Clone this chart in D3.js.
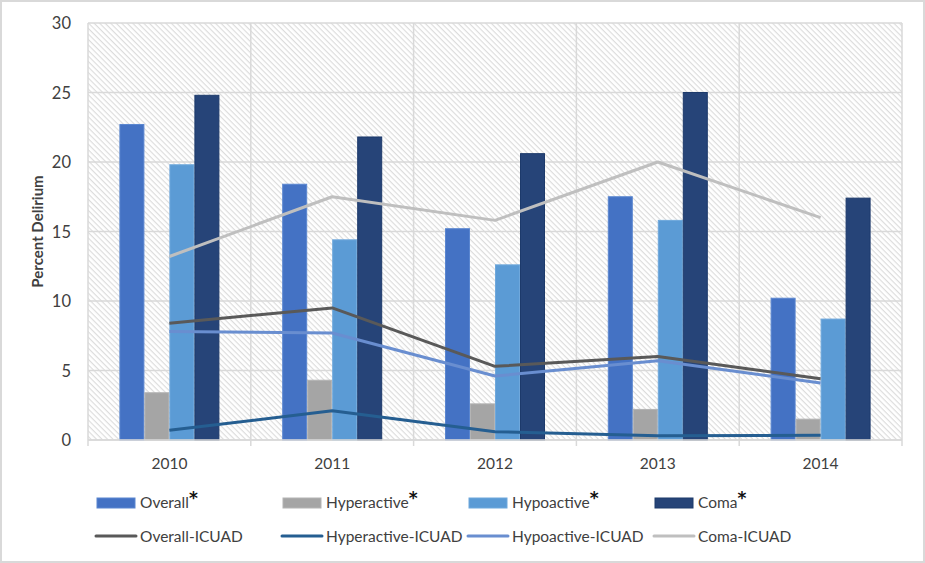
<!DOCTYPE html>
<html>
<head>
<meta charset="utf-8">
<script src="https://cdn.jsdelivr.net/npm/d3@7"></script>
<style>
  body { margin: 0; background: #fff; }
  svg { font-family: Lato, "Open Sans", sans-serif; }
</style>
</head>
<body>
<div class="chart"></div>
<script>
// width and height of the picture
let svg_width = 925;
let svg_height = 563;

// data
let years = ['2010', '2011', '2012', '2013', '2014'];
let bar_series = ['Overall', 'Hyperactive', 'Hypoactive', 'Coma'];
let overall = [22.7, 18.4, 15.2, 17.5, 10.2];
let hyperactive = [3.4, 4.3, 2.6, 2.2, 1.5];
let hypoactive = [19.8, 14.4, 12.6, 15.8, 8.7];
let coma = [24.8, 21.8, 20.6, 25.0, 17.4];

let line_series = ['Overall-ICUAD', 'Hyperactive-ICUAD', 'Hypoactive-ICUAD', 'Coma-ICUAD'];
let overall_icuad = [8.4, 9.5, 5.3, 6.0, 4.4];
let hyperactive_icuad = [0.7, 2.1, 0.6, 0.3, 0.35];
let hypoactive_icuad = [7.8, 7.7, 4.6, 5.7, 4.1];
let coma_icuad = [13.2, 17.5, 15.8, 20.0, 16.0];

let y_ticks = [0, 5, 10, 15, 20, 25, 30];

let bar_values = [overall, hyperactive, hypoactive, coma];
let line_values = [overall_icuad, hyperactive_icuad, hypoactive_icuad, coma_icuad];

let bar_colors = ['#4472C4', '#A5A5A5', '#5B9BD5', '#264478'];
let bar_strokes = ['#5a86d0', '#b4b4b4', '#6fa8dc', '#1d3a6b'];
let line_colors = ['#595959', '#255E91', '#698ED0', '#BFBFBF'];

// plot area
let plot = { left: 88, right: 902, top: 23, bottom: 440 };

let x_scale = d3.scaleBand()
                .domain(years)
                .range([plot.left, plot.right]);

let group_width = 100;
let x_inner = d3.scaleBand()
                .domain(bar_series)
                .range([0, group_width]);

let y_scale = d3.scaleLinear()
                .domain([0, 30])
                .range([plot.bottom, plot.top]);

let svg = d3.select('.chart')
            .append('svg')
            .attr('width', svg_width)
            .attr('height', svg_height);

// outer frame
svg.append('rect')
    .attr('x', 1).attr('y', 1)
    .attr('width', svg_width - 2).attr('height', svg_height - 2)
    .attr('fill', '#fff')
    .attr('stroke', '#d9d9d9')
    .attr('stroke-width', 2);

// hatch pattern for the plot area
let defs = svg.append('defs');
let pat = defs.append('pattern')
    .attr('id', 'hatch')
    .attr('patternUnits', 'userSpaceOnUse')
    .attr('width', 8).attr('height', 3.9)
    .attr('patternTransform', 'rotate(45)');
pat.append('rect').attr('width', 8).attr('height', 3.9).attr('fill', '#fff');
pat.append('line')
    .attr('x1', 0).attr('x2', 8)
    .attr('y1', 0.6).attr('y2', 0.6)
    .attr('stroke', '#dadada')
    .attr('stroke-width', 1.1);

svg.append('rect')
    .attr('x', plot.left).attr('y', plot.top)
    .attr('width', plot.right - plot.left)
    .attr('height', plot.bottom - plot.top)
    .attr('fill', 'url(#hatch)');

// gridlines
svg.append('g')
    .selectAll('line')
    .data(y_ticks)
    .enter()
    .append('line')
    .attr('x1', plot.left).attr('x2', plot.right)
    .attr('y1', d => y_scale(d)).attr('y2', d => y_scale(d))
    .attr('stroke', '#d9d9d9')
    .attr('stroke-width', 1.5);

let v_lines = years.map(d => x_scale(d)).concat([plot.right]);
svg.append('g')
    .selectAll('line')
    .data(v_lines)
    .enter()
    .append('line')
    .attr('x1', d => d).attr('x2', d => d)
    .attr('y1', plot.top).attr('y2', plot.bottom)
    .attr('stroke', '#d9d9d9')
    .attr('stroke-width', 1.5);

// bars
bar_series.forEach(function(s, k) {
    svg.append('g')
        .selectAll('rect')
        .data(bar_values[k])
        .enter()
        .append('rect')
        .attr('x', (d, i) => x_scale(years[i]) + (x_scale.bandwidth() - group_width) / 2 + x_inner(s) + 0.5)
        .attr('y', d => y_scale(d))
        .attr('width', x_inner.bandwidth() - 1)
        .attr('height', d => y_scale(0) - y_scale(d))
        .attr('fill', bar_colors[k])
        .attr('stroke', bar_strokes[k])
        .attr('stroke-width', 1);
});

// x axis baseline with ticks
svg.append('line')
    .attr('x1', plot.left).attr('x2', plot.right)
    .attr('y1', plot.bottom).attr('y2', plot.bottom)
    .attr('stroke', '#d9d9d9').attr('stroke-width', 1.5);
svg.append('g')
    .selectAll('line')
    .data(v_lines)
    .enter()
    .append('line')
    .attr('x1', d => d).attr('x2', d => d)
    .attr('y1', plot.bottom).attr('y2', plot.bottom + 6)
    .attr('stroke', '#d9d9d9').attr('stroke-width', 1.5);

// lines
let line_gen = d3.line()
    .x((d, i) => x_scale(years[i]) + x_scale.bandwidth() / 2)
    .y(d => y_scale(d));

line_series.forEach(function(s, k) {
    svg.append('path')
        .datum(line_values[k])
        .attr('d', line_gen)
        .attr('fill', 'none')
        .attr('stroke', line_colors[k])
        .attr('stroke-width', 3)
        .attr('stroke-linejoin', 'round');
});

// y tick labels
svg.append('g')
    .selectAll('text')
    .data(y_ticks)
    .enter()
    .append('text')
    .text(d => d)
    .attr('x', 71)
    .attr('y', d => y_scale(d) + 6)
    .attr('text-anchor', 'end')
    .attr('font-size', 16.5)
    .attr('fill', '#404040');

// x tick labels
svg.append('g')
    .selectAll('text')
    .data(years)
    .enter()
    .append('text')
    .text(d => d)
    .attr('x', d => x_scale(d) + x_scale.bandwidth() / 2)
    .attr('y', 469)
    .attr('text-anchor', 'middle')
    .attr('font-size', 15.5)
    .attr('fill', '#404040');

// y axis title
svg.append('text')
    .text('Percent Delirium')
    .attr('transform', 'translate(43,' + ((plot.top + plot.bottom) / 2) + ') rotate(-90)')
    .attr('text-anchor', 'middle')
    .attr('font-size', 15)
    .attr('font-weight', 'bold')
    .attr('fill', '#404040');

// legend
let legend_x = [97, 283, 469, 655];

bar_series.forEach(function(s, k) {
    let g = svg.append('g').attr('transform', 'translate(' + legend_x[k] + ',498)');
    g.append('rect')
        .attr('x', 0).attr('y', 0)
        .attr('width', 38).attr('height', 10)
        .attr('fill', bar_colors[k])
        .attr('stroke', bar_strokes[k]);
    let t = g.append('text')
        .attr('x', 43).attr('y', 10)
        .attr('font-size', 15.5)
        .attr('fill', '#404040');
    t.append('tspan').text(s);
    t.append('tspan').text('*')
        .attr('dy', -4)
        .attr('font-family', 'DejaVu Sans')
        .attr('font-weight', 'bold')
        .attr('font-size', 17)
        .attr('fill', '#111');
});

line_series.forEach(function(s, k) {
    let g = svg.append('g').attr('transform', 'translate(' + (legend_x[k] - 1) + ',536)');
    g.append('line')
        .attr('x1', 0).attr('x2', 40)
        .attr('y1', 0).attr('y2', 0)
        .attr('stroke', line_colors[k])
        .attr('stroke-width', 3)
        .attr('stroke-linecap', 'round');
    g.append('text')
        .text(s)
        .attr('x', 44).attr('y', 5.5)
        .attr('font-size', 15.5)
        .attr('fill', '#404040');
});
</script>
</body>
</html>
